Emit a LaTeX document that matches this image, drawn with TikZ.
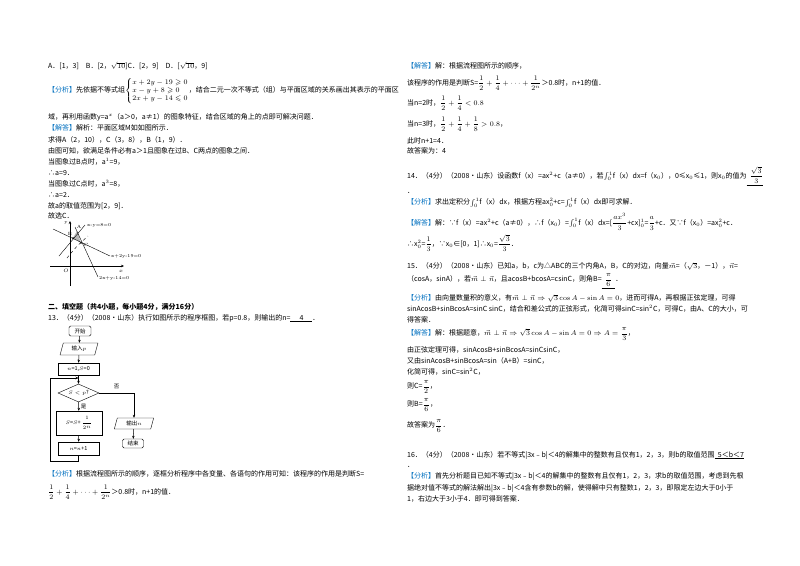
\documentclass[tikz,border=0pt]{standalone}
\usepackage{amsmath,amssymb}
\usepackage{fontspec}
\newfontfamily\cjk{Noto Sans CJK SC}
\usetikzlibrary{shapes.geometric,arrows.meta}
\definecolor{lblue}{RGB}{0,112,192}
\newcounter{tl}
\newcommand\tline[3]{\stepcounter{tl}\node[txt] (t\arabic{tl}) at (#1,#2) {#3};}
\newcommand\FX{{\color{lblue}【分析】}}
\newcommand\JD{{\color{lblue}【解答】}}
\newcommand\ul[1]{\underline{\makebox[22pt]{#1}}}
\newcommand\fr[2]{\dfrac{#1}{#2}}
\begin{document}
\begin{tikzpicture}[x=1pt,y=-1pt,
  txt/.style={anchor=west,inner sep=0pt,font=\cjk\fontsize{7}{8}\selectfont},
  fbox/.style={draw,inner sep=0pt,font=\cjk\fontsize{5.5}{6}\selectfont},
  arr/.style={-{Stealth[length=3pt,width=2.5pt]},line width=0.5pt},
  gl/.style={line width=0.4pt},
  lab/.style={inner sep=0pt,font=\fontsize{4.5}{5}\selectfont}]
\useasboundingbox[fill=white] (0,0) rectangle (800,565);
% ---------- left column
\tline{48}{66}{A．[1，3]\quad B．[2，$\sqrt{10}$]C．[2，9]\quad D．[$\sqrt{10}$，9]}
\tline{48}{91}{\FX 先依据不等式组$\left\{\begin{array}{@{}l@{}}x+2y-19\geqslant0\\ x-y+8\geqslant0\\ 2x+y-14\leqslant0\end{array}\right.$，结合二元一次不等式（组）与平面区域的关系画出其表示的平面区}
\tline{48}{117}{域，再利用函数y=a$^{x}$（a＞0，a≠1）的图象特征，结合区域的角上的点即可解决问题．}
\tline{48}{128}{\JD 解析：平面区域M如如图所示．}
\tline{48}{140}{求得A（2，10），C（3，8），B（1，9）．}
\tline{48}{151}{由图可知，欲满足条件必有a＞1且图象在过B、C两点的图象之间．}
\tline{48}{162}{当图象过B点时，a$^{1}$=9，}
\tline{48}{173}{∴a=9．}
\tline{48}{184}{当图象过C点时，a$^{3}$=8，}
\tline{48}{195}{∴a=2．}
\tline{48}{206}{故a的取值范围为[2，9]．}
\tline{48}{216}{故选C．}
% graph
\coordinate (xs) at (50,266); \coordinate (xe) at (124,266);
\coordinate (ys) at (70,286); \coordinate (ye) at (70,221);
\draw[arr,line width=0.4pt] (xs) -- (xe);
\draw[arr,line width=0.4pt] (ys) -- (ye);
\node[lab] (go) at (66,271) {$O$};
\node[lab] (gx) at (121,271) {$x$};
\node[lab] (gy) at (66,223) {y};
\coordinate (pA) at (77,231); \coordinate (pB) at (73,238); \coordinate (pC) at (81,243);
\fill[gray!55] (pA) -- (pB) -- (pC) -- cycle;
\coordinate (l1a) at (59,256); \coordinate (l1b) at (85,225);
\coordinate (l2a) at (53,229); \coordinate (l2b) at (110,256);
\coordinate (l3a) at (75,227); \coordinate (l3b) at (98,277);
\draw[gl] (l1a) -- (l1b); \draw[gl] (l2a) -- (l2b); \draw[gl] (l3a) -- (l3b);
\coordinate (d1) at (67,258); \coordinate (d2) at (88,236);
\draw[gl,dashed] (d1) .. controls (76,247) .. (d2);
\fill (pB) circle (0.9); \fill (pC) circle (0.9);
\node[lab] (la) at (79,227) {A}; \node[lab] (lb) at (70,234) {B}; \node[lab] (lc) at (86,245) {C};
\node[lab,anchor=west] (e1) at (87,225) {x-y=8=0};
\node[lab,anchor=west] (e2) at (111,256) {x+2y-19=0};
\node[lab,anchor=west] (e3) at (99,278) {2x+y-14=0};
% section 2
\tline{48}{307}{\textbf{二、填空题（共4小题，每小题4分，满分16分）}}
\tline{48}{318}{13．（4分）（2008•山东）执行如图所示的程序框图，若p=0.8，则输出的n=\ul{4}．}
% flowchart
\node[fbox,rounded corners=1.5pt,minimum width=22pt,minimum height=10pt] (st) at (80,331) {开始};
\node[fbox,trapezium,trapezium left angle=75,trapezium right angle=105,minimum width=30pt,minimum height=12pt] (inp) at (79,349) {输入$p$};
\node[fbox,minimum width=41pt,minimum height=12pt] (ini) at (78.5,369) {$n$=1,$S$=0};
\node[fbox,diamond,aspect=2.3,minimum width=41pt,minimum height=18pt] (dec) at (78.5,393) {$S<p$?};
\node[fbox,minimum width=46pt,minimum height=24pt] (sum) at (79,423) {$S$=$S$+\,$\dfrac{1}{2^n}$};
\node[fbox,minimum width=41pt,minimum height=13pt] (inc) at (78.5,448.5) {$n$=$n$+1};
\node[fbox,trapezium,trapezium left angle=75,trapezium right angle=105,minimum width=30pt,minimum height=11pt] (out) at (134,423.5) {输出$n$};
\node[fbox,rounded corners=1.5pt,minimum width=21pt,minimum height=9pt] (en) at (133,443.5) {结束};
\coordinate (jn) at (78.5,378);
\draw[arr] (st) -- (inp);
\draw[arr] (inp) -- (ini);
\draw[arr] (ini) -- (dec);
\draw[arr] (dec) -- node[right,font=\cjk\fontsize{5.5}{6}\selectfont,inner sep=2pt]{是} (sum);
\draw[arr] (sum) -- (inc);
\draw[arr] (inc.south) -- ++(0,6) -| (50,378) -- (jn);
\draw[arr] (dec.east) -| node[pos=0.25,above,font=\cjk\fontsize{5.5}{6}\selectfont]{否} (out.north);
\draw[arr] (out) -- (en);
\tline{48}{474}{\FX 根据流程图所示的顺序，逐框分析程序中各变量、各语句的作用可知：该程序的作用是判断S=}
\tline{48}{492}{$\fr12+\fr14+\cdots+\fr1{2^n}$＞0.8时，n+1的值．}
% ---------- right column
\tline{407}{66}{\JD 解：根据流程图所示的顺序，}
\tline{407}{83}{该程序的作用是判断S=$\fr12+\fr14+\cdots+\fr1{2^n}$＞0.8时，n+1的值．}
\tline{407}{103}{当n=2时，$\fr12+\fr14<0.8$}
\tline{407}{124}{当n=3时，$\fr12+\fr14+\fr18>0.8$，}
\tline{407}{141}{此时n+1=4．}
\tline{407}{151}{故答案为：4}
\tline{407}{176}{14．（4分）（2008•山东）设函数f（x）=ax$^{2}$+c（a≠0），若$\int_0^1$f（x）dx=f（x$_0$），0≤x$_0$≤1，则x$_0$的值为\underline{\ \ $\fr{\sqrt3}{3}$}}
\tline{407}{193}{．}
\tline{407}{203}{\FX 求出定积分$\int_0^1$f（x）dx，根据方程ax$_0^2$+c=$\int_0^1$f（x）dx即可求解．}
\tline{407}{222}{\JD 解：∵f（x）=ax$^{2}$+c（a≠0），∴f（x$_0$）=$\int_0^1$f（x）dx=[$\fr{ax^3}{3}$+cx]$_0^1$=$\fr a3$+c．又∵f（x$_0$）=ax$_0^2$+c．}
\tline{407}{243}{∴x$_0^2$=$\fr13$，∵x$_0$∈[0，1]∴x$_0$=$\fr{\sqrt3}{3}$．}
\tline{407}{266}{15．（4分）（2008•山东）已知a，b，c为△ABC的三个内角A，B，C的对边，向量$\vec m$=（$\sqrt3$，－1），$\vec n$=}
\tline{407}{281}{（cosA，sinA），若$\vec m\perp\vec n$，且acosB+bcosA=csinC，则角B=\underline{\ \ $\fr{\pi}{6}$\ \ }．}
\tline{407}{298}{\FX 由向量数量积的意义，有$\vec m\perp\vec n\Rightarrow\sqrt3\cos A-\sin A=0$，进而可得A，再根据正弦定理，可得}
\tline{407}{309}{sinAcosB+sinBcosA=sinC sinC，结合和差公式的正弦形式，化简可得sinC=sin$^{2}$C，可得C，由A、C的大小，可}
\tline{407}{320}{得答案．}
\tline{407}{334}{\JD 解：根据题意，$\vec m\perp\vec n\Rightarrow\sqrt3\cos A-\sin A=0\Rightarrow A=\fr{\pi}{3}$，}
\tline{407}{350}{由正弦定理可得，sinAcosB+sinBcosA=sinCsinC，}
\tline{407}{361}{又由sinAcosB+sinBcosA=sin（A+B）=sinC，}
\tline{407}{372}{化简可得，sinC=sin$^{2}$C，}
\tline{407}{387}{则C=$\fr{\pi}{2}$，}
\tline{407}{405}{则B=$\fr{\pi}{6}$，}
\tline{407}{426}{故答案为$\fr{\pi}{6}$．}
\tline{407}{455}{16．（4分）（2008•山东）若不等式|3x﹣b|＜4的解集中的整数有且仅有1，2，3，则b的取值范围\underline{\ \ 5＜b＜7}}
\tline{407}{467}{．}
\tline{407}{477}{\FX 首先分析题目已知不等式|3x﹣b|＜4的解集中的整数有且仅有1，2，3，求b的取值范围，考虑到先根}
\tline{407}{488}{据绝对值不等式的解法解出|3x﹣b|＜4含有参数b的解，使得解中只有整数1，2，3，即限定左边大于0小于}
\tline{407}{499}{1，右边大于3小于4．即可得到答案．}
\end{tikzpicture}
\end{document}
